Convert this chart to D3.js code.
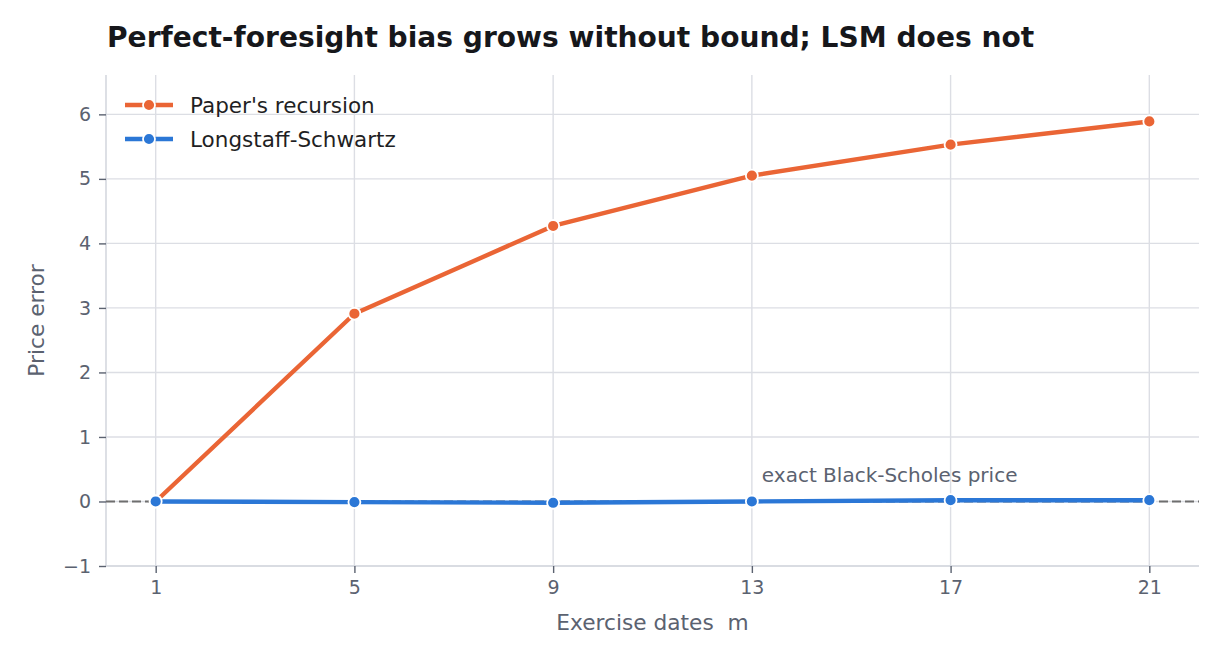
<!DOCTYPE html>
<html>
<head>
<meta charset="utf-8">
<script src="https://cdn.jsdelivr.net/npm/d3@7"></script>
<style>
  body { margin: 0; background: #fff; }
  svg text { font-family: "DejaVu Sans", "Liberation Sans", sans-serif !important; }
</style>
</head>
<body>
<div id="chart"></div>
<script>
// data
const exerciseDates = [1, 5, 9, 13, 17, 21];
const paperRecursion = [0.0, 2.91, 4.27, 5.05, 5.53, 5.89];
const longstaffSchwartz = [0.0, -0.01, -0.02, 0.0, 0.02, 0.02];
const yTicks = [-1, 0, 1, 2, 3, 4, 5, 6];
const seriesNames = ["Paper's recursion", "Longstaff-Schwartz"];
const seriesColors = ["#ea6535", "#2b77d6"];

const W = 1224, H = 663;
const margin = { left: 106, right: 25, top: 75, bottom: 97 };
const FONT = "'DejaVu Sans', sans-serif";

const svg = d3.select("#chart").append("svg")
    .attr("width", W)
    .attr("height", H)
    .attr("font-family", FONT);

const x = d3.scaleLinear().domain([0, 22]).range([margin.left, W - margin.right]);
const y = d3.scaleLinear().domain([-1, 6.61]).range([H - margin.bottom, margin.top]);

// grid
svg.append("g").selectAll("line").data(exerciseDates).join("line")
    .attr("x1", d => x(d)).attr("x2", d => x(d))
    .attr("y1", margin.top).attr("y2", H - margin.bottom)
    .attr("stroke", "#dcdee4").attr("stroke-width", 1.4);
svg.append("g").selectAll("line").data(yTicks).join("line")
    .attr("x1", margin.left).attr("x2", W - margin.right)
    .attr("y1", d => y(d)).attr("y2", d => y(d))
    .attr("stroke", "#dcdee4").attr("stroke-width", 1.4);

// axes
const xAxis = svg.append("g")
    .attr("transform", `translate(0,${H - margin.bottom})`)
    .call(d3.axisBottom(x).tickValues(exerciseDates).tickSize(7).tickPadding(8).tickFormat(d3.format("d")));
const yAxis = svg.append("g")
    .attr("transform", `translate(${margin.left},0)`)
    .call(d3.axisLeft(y).tickValues(yTicks).tickSize(7).tickPadding(8).tickFormat(d => d < 0 ? "\u2212" + Math.abs(d) : d));
[xAxis, yAxis].forEach(a => {
    a.attr("font-family", FONT);
    a.select(".domain").attr("stroke", "#d5d8df").attr("stroke-width", 1.6);
    a.selectAll(".tick line").attr("stroke", "#5b6270").attr("stroke-width", 1.4);
    a.selectAll(".tick text").attr("fill", "#5b6270").style("font-size", "19px");
});
xAxis.select(".domain").attr("d", `M${margin.left},0H${W - margin.right}`);
yAxis.select(".domain").attr("d", `M0,${margin.top}V${H - margin.bottom}`);

// reference line at zero
svg.append("line")
    .attr("x1", margin.left).attr("x2", W - margin.right)
    .attr("y1", y(0)).attr("y2", y(0))
    .attr("stroke", "#6e6e6e").attr("stroke-width", 2.2)
    .attr("stroke-dasharray", "9,4");

svg.append("text")
    .attr("x", x(13) + 10).attr("y", y(0) - 19.5)
    .attr("fill", "#5b6270").style("font-size", "20px")
    .text("exact Black-Scholes price");

// series
const line = d3.line().x((d, i) => x(exerciseDates[i])).y(d => y(d));
[paperRecursion, longstaffSchwartz].forEach((vals, s) => {
    svg.append("path").datum(vals)
        .attr("d", line)
        .attr("fill", "none")
        .attr("stroke", seriesColors[s])
        .attr("stroke-width", 4.4)
        .attr("stroke-linejoin", "round");
    svg.append("g").selectAll("circle").data(vals).join("circle")
        .attr("cx", (d, i) => x(exerciseDates[i]))
        .attr("cy", d => y(d))
        .attr("r", 6)
        .attr("fill", seriesColors[s])
        .attr("stroke", "#fff").attr("stroke-width", 1.8);
});

// legend
const legend = svg.append("g").attr("transform", "translate(125,105)");
seriesNames.forEach((name, i) => {
    const g = legend.append("g").attr("transform", `translate(0,${i * 34})`);
    g.append("line").attr("x1", 0).attr("x2", 48).attr("y1", 0).attr("y2", 0)
        .attr("stroke", seriesColors[i]).attr("stroke-width", 4.4);
    g.append("circle").attr("cx", 24).attr("cy", 0).attr("r", 6)
        .attr("fill", seriesColors[i]).attr("stroke", "#fff").attr("stroke-width", 1.8);
    g.append("text").attr("x", 65).attr("y", 7.5)
        .attr("fill", "#1f1f24").style("font-size", "21.5px")
        .text(name);
});

// titles
svg.append("text")
    .attr("x", 107).attr("y", 47)
    .attr("fill", "#16171b").style("font-size", "28.1px").style("font-weight", "bold")
    .text("Perfect-foresight bias grows without bound; LSM does not");

svg.append("text")
    .attr("x", (margin.left + W - margin.right) / 2).attr("y", 630)
    .attr("text-anchor", "middle")
    .attr("fill", "#5b6270").style("font-size", "21.7px")
    .style("white-space", "pre")
    .text("Exercise dates  m");

svg.append("text")
    .attr("transform", `translate(44,${(margin.top + H - margin.bottom) / 2}) rotate(-90)`)
    .attr("text-anchor", "middle")
    .attr("fill", "#5b6270").style("font-size", "21.7px")
    .text("Price error");
</script>
</body>
</html>
